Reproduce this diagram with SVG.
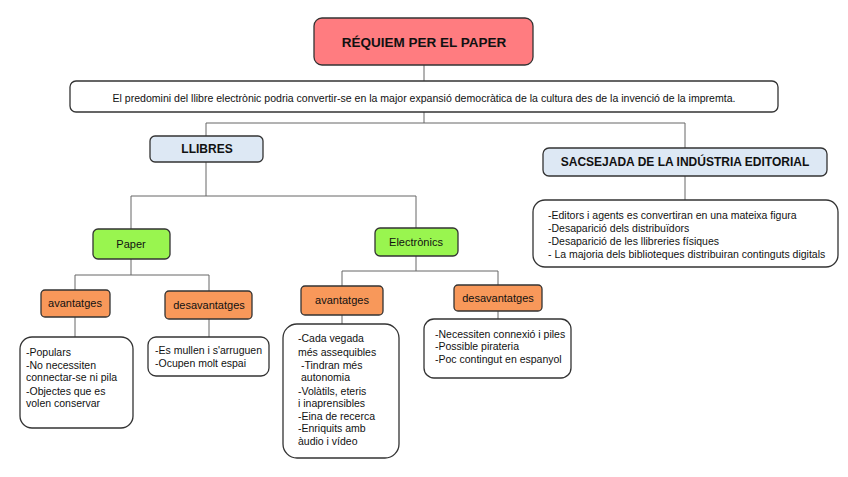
<svg xmlns="http://www.w3.org/2000/svg" width="848" height="477" viewBox="0 0 848 477">
<style>
text{font-family:"Liberation Sans",Arial,sans-serif;fill:#111}
.box{stroke:#333;stroke-width:1.3}
.title{fill:#ff7c80}
.blue{fill:#dde8f4}
.green{fill:#99f54f}
.orange{fill:#f8985a}
.white{fill:#fff}
.b{font-weight:bold;font-size:12px}
.n{font-size:11px}
.l{font-size:10.5px}
#connectors path{fill:none;stroke:#666;stroke-width:1}
</style>
<rect width="848" height="477" fill="#fff"/>
<g id="connectors">
<path d="M424 65V81"/>
<path d="M424 112V123M206 123H685M206 123V136M685 123V148"/>
<path d="M685 176V200"/>
<path d="M206 162V196M131 196H416M131 196V229M416 196V228"/>
<path d="M131 259V275M75 275H209M75 275V290M209 275V291"/>
<path d="M75 317V337M209 319V337"/>
<path d="M416 256V271M342 271H498M342 271V286M498 271V285"/>
<path d="M342 315V324M498 311V319"/>
</g>
<g id="title"><rect class="box title" x="314" y="18" width="219" height="47" rx="8"/><text class="b" x="424" y="47" text-anchor="middle" style="font-size:13.5px">RÉQUIEM PER EL PAPER</text></g>
<g id="statement"><rect class="box white" x="70" y="81" width="708" height="31" rx="6"/><text x="424" y="102" text-anchor="middle" textLength="623" lengthAdjust="spacingAndGlyphs" style="font-size:10.2px">El predomini del llibre electrònic podria convertir-se en la major expansió democràtica de la cultura des de la invenció de la impremta.</text></g>
<g id="llibres"><rect class="box blue" x="150" y="136" width="113" height="26" rx="5"/><text class="b" x="207" y="153" text-anchor="middle">LLIBRES</text></g>
<g id="sacsejada"><rect class="box blue" x="543" y="148" width="284" height="28" rx="6"/><text class="b" x="685" y="166" text-anchor="middle">SACSEJADA DE LA INDÚSTRIA EDITORIAL</text></g>
<g id="industria-list"><rect class="box white" x="533" y="200" width="305" height="67" rx="12"/>
<text class="l" x="548" y="219">-Editors i agents es convertiran en una mateixa figura</text>
<text class="l" x="548" y="232">-Desaparició dels distribuïdors</text>
<text class="l" x="548" y="245">-Desaparició de les llibreries físiques</text>
<text class="l" x="548" y="258">- La majoria dels biblioteques distribuiran continguts digitals</text></g>
<g id="paper"><rect class="box green" x="93" y="229" width="77" height="30" rx="5"/><text class="n" x="131" y="248" text-anchor="middle">Paper</text></g>
<g id="electronics"><rect class="box green" x="375" y="228" width="83" height="28" rx="5"/><text class="n" x="416" y="246" text-anchor="middle">Electrònics</text></g>
<g id="paper-avantatges"><rect class="box orange" x="41" y="290" width="69" height="27" rx="4"/><text class="n" x="75" y="307" text-anchor="middle">avantatges</text></g>
<g id="paper-desavantatges"><rect class="box orange" x="165" y="291" width="87" height="28" rx="4"/><text class="n" x="209" y="309" text-anchor="middle">desavantatges</text></g>
<g id="elec-avantatges"><rect class="box orange" x="301" y="286" width="82" height="29" rx="4"/><text class="n" x="342" y="304" text-anchor="middle">avantatges</text></g>
<g id="elec-desavantatges"><rect class="box orange" x="454" y="285" width="88" height="26" rx="4"/><text class="n" x="498" y="302" text-anchor="middle">desavantatges</text></g>
<g id="paper-av-list"><rect class="box white" x="20" y="337" width="113" height="91" rx="12"/>
<text class="l" x="26" y="356">-Populars</text>
<text class="l" x="26" y="369">-No necessiten</text>
<text class="l" x="26" y="381">connectar-se ni pila</text>
<text class="l" x="26" y="395">-Objectes que es</text>
<text class="l" x="26" y="407">volen conservar</text></g>
<g id="paper-des-list"><rect class="box white" x="148" y="337" width="121" height="39" rx="8"/>
<text class="l" x="155" y="354">-Es mullen i s'arruguen</text>
<text class="l" x="155" y="367">-Ocupen molt espai</text></g>
<g id="elec-av-list"><rect class="box white" x="283" y="324" width="116" height="134" rx="14"/>
<text class="l" x="298" y="342">-Cada vegada</text>
<text class="l" x="298" y="356">més assequibles</text>
<text class="l" x="301" y="369">-Tindran més</text>
<text class="l" x="301" y="381">autonomia</text>
<text class="l" x="298" y="395">-Volàtils, eteris</text>
<text class="l" x="298" y="407">i inaprensibles</text>
<text class="l" x="298" y="420">-Eina de recerca</text>
<text class="l" x="298" y="432">-Enriquits amb</text>
<text class="l" x="298" y="445">àudio i vídeo</text></g>
<g id="elec-des-list"><rect class="box white" x="424" y="319" width="147" height="59" rx="10"/>
<text class="l" x="435" y="338">-Necessiten connexió i piles</text>
<text class="l" x="435" y="350">-Possible pirateria</text>
<text class="l" x="435" y="363">-Poc contingut en espanyol</text></g>
</svg>
